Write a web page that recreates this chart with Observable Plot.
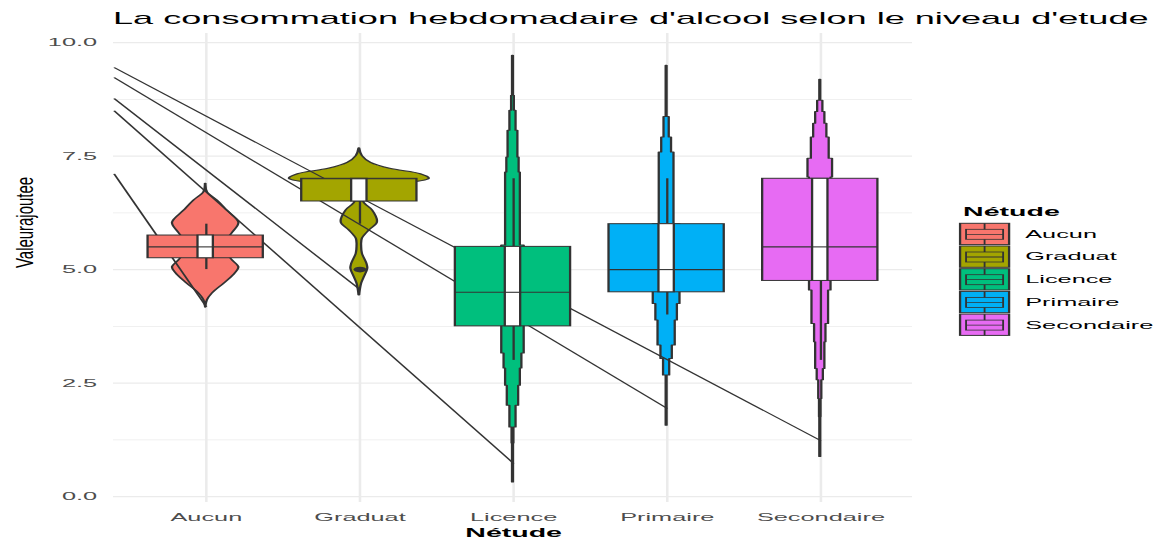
<!DOCTYPE html>
<html><head><meta charset="utf-8">
<script src="https://cdn.jsdelivr.net/npm/d3@7"></script>
<script src="https://cdn.jsdelivr.net/npm/@observablehq/plot@0.6"></script>
<style>
html,body{margin:0;padding:0;background:#fff;overflow:hidden;}
#stage{position:absolute;left:0;top:0;width:507px;height:543px;transform-origin:0 0;font-family:"Liberation Sans",Arial,sans-serif;}
#title{position:absolute;left:49.1px;top:11px;font-size:15.7px;line-height:1;white-space:nowrap;color:#000;}
#chart{position:absolute;left:0;top:33px;}
#legend{position:absolute;left:410px;top:195px;}
</style></head><body>
<div id="stage">
  <div id="title">La consommation hebdomadaire d'alcool selon le niveau d'etude</div>
  <div id="chart"></div>
  <div id="legend"></div>
</div>
<script>
// ---------- data ----------
const categories = ["Aucun", "Graduat", "Licence", "Primaire", "Secondaire"];
const colors = ["#F8766D", "#A3A500", "#00BF7D", "#00B0F6", "#E76BF3"];
const q1 = [5.25, 6.5, 3.75, 4.5, 4.75];
const median = [5.5, 7.0, 4.5, 5.0, 5.5];
const q3 = [5.75, 7.0, 5.5, 6.0, 7.0];
const whiskerLow = [5.0, 6.0, 3.0, 4.0, 3.0];
const whiskerHigh = [6.0, 7.0, 7.0, 7.0, 7.0];
const outlierCat = ["Graduat"];
const outlierValue = [5.0];

// smooth violins: [value, half-width]
const violinAucun = [[4.16,0],[4.32,0.011],[4.47,0.043],[4.69,0.12],[4.87,0.18],[5.05,0.216],[5.2,0.175],[5.35,0.14],[5.5,0.13],[5.65,0.14],[5.81,0.175],[6.03,0.216],[6.3,0.14],[6.52,0.076],[6.7,0.012],[6.89,0.002]];
const violinGraduat = [[4.43,0.002],[4.54,0.006],[4.69,0.015],[4.83,0.032],[5.02,0.055],[5.13,0.049],[5.35,0.02],[5.5,0.015],[5.68,0.02],[5.86,0.065],[6.03,0.117],[6.3,0.087],[6.48,0.03],[6.6,0.04],[6.8,0.15],[7.0,0.455],[7.1,0.4],[7.22,0.2],[7.35,0.076],[7.5,0.02],[7.67,0.002]];
// stepped violins: [lower bound of step, half-width of step]; last entry = top
const violinLicence = [[0.31,0.003],[1.17,0.006],[1.52,0.02],[2.0,0.037],[2.44,0.048],[2.82,0.058],[3.15,0.073],[5.53,0.048],[7.14,0.04],[7.47,0.032],[8.06,0.02],[8.5,0.009],[8.83,0.003],[9.71,0]];
const violinPrimaire = [[1.56,0.003],[2.67,0.02],[3.03,0.037],[3.33,0.056],[3.88,0.07],[4.24,0.087],[6.0,0.048],[7.58,0.032],[7.91,0.017],[8.36,0.003],[9.49,0]];
const violinSecondaire = [[0.87,0.003],[1.75,0.005],[2.15,0.01],[2.56,0.02],[2.81,0.03],[3.4,0.037],[3.8,0.054],[4.54,0.07],[7.03,0.08],[7.44,0.058],[7.91,0.043],[8.21,0.03],[8.47,0.017],[8.72,0.003],[9.18,0]];

// straight lines entering from the left edge of the panel
const lineStartValue = [9.45, 9.23, 8.77, 8.50, 7.11];
const lineEndCat = ["Secondaire", "Primaire", "Graduat", "Licence", "Aucun"];
const lineEndValue = [1.23, 1.94, 4.56, 0.73, 4.18];

const yTicks = [0, 2.5, 5, 7.5, 10];
const yMinor = [1.25, 3.75, 6.25, 8.75];
const xLabel = "Nétude";
const yLabel = "Valeurajoutee";

// ---------- layout ----------
const W = 507, STRETCH = 1167 / W;
document.getElementById("stage").style.transform = `scale(${STRETCH},1)`;
const xLeftEdge = 0.4, xRightEdge = 5.6;
const pos = c => categories.indexOf(c) + 1;
const positions = categories.map((c, i) => i + 1);
const boxHalf = 0.375, narrowHalf = 0.05;

const boxes = categories.map((c, i) => ({cat: c, pos: i + 1, color: colors[i], q1: q1[i], med: median[i], q3: q3[i], lo: whiskerLow[i], hi: whiskerHigh[i]}));
const smooth = (arr, i) => arr.map(([v, hw]) => ({pos: i + 1, v, hw}));
const stepped = (arr, i) => {
  const out = [];
  for (let k = 0; k < arr.length - 1; k++) {
    out.push({pos: i + 1, v: arr[k][0], hw: arr[k][1]}, {pos: i + 1, v: arr[k + 1][0], hw: arr[k][1]});
  }
  return out;
};
const violins = [
  {data: smooth(violinAucun, 0), curve: "catmull-rom"},
  {data: smooth(violinGraduat, 1), curve: "catmull-rom"},
  {data: stepped(violinLicence, 2), curve: "linear"},
  {data: stepped(violinPrimaire, 3), curve: "linear"},
  {data: stepped(violinSecondaire, 4), curve: "linear"}
];
const lines = lineEndCat.map((c, i) => ({x1: xLeftEdge, y1: lineStartValue[i], x2: pos(c), y2: lineEndValue[i]}));
const outliers = outlierCat.map((c, i) => ({x: pos(c), y: outlierValue[i]}));

const INK = "#333333";
const chart = Plot.plot({
  width: W, height: 510,
  marginLeft: 49.09, marginRight: W - 396.2, marginTop: 0, marginBottom: 41,
  style: {fontFamily: "Liberation Sans, Arial, sans-serif", color: "#4d4d4d", background: "white", overflow: "visible"},
  x: {domain: [xLeftEdge, xRightEdge]},
  y: {domain: [-0.13, 10.2]},
  marks: [
    Plot.ruleY(yMinor, {stroke: "#ebebeb", strokeWidth: 0.6}),
    Plot.ruleY(yTicks, {stroke: "#ebebeb", strokeWidth: 1.1}),
    Plot.ruleX(positions, {stroke: "#ebebeb", strokeWidth: 1.1}),
    Plot.axisX({ticks: positions, tickFormat: d => categories[d - 1], tickSize: 0, tickPadding: 11, fontSize: 11, label: null}),
    Plot.axisY({ticks: yTicks, tickFormat: d3.format(".1f"), tickSize: 0, tickPadding: 7.4, fontSize: 11, label: null}),
    ...violins.map((vv, i) => Plot.areaX(vv.data, {y: "v", x1: d => d.pos - d.hw, x2: d => d.pos + d.hw, fill: colors[i], stroke: INK, strokeWidth: 1, curve: vv.curve})),
    Plot.link(lines, {x1: "x1", y1: "y1", x2: "x2", y2: "y2", stroke: INK, strokeWidth: 0.9}),
    Plot.rect(boxes, {x1: d => d.pos - boxHalf, x2: d => d.pos + boxHalf, y1: "q1", y2: "q3", fill: "color", stroke: INK, strokeWidth: 1}),
    Plot.ruleY(boxes, {y: "med", x1: d => d.pos - boxHalf, x2: d => d.pos + boxHalf, stroke: INK, strokeWidth: 1.1}),
    Plot.ruleX(boxes, {x: "pos", y1: "q3", y2: "hi", stroke: INK, strokeWidth: 1}),
    Plot.ruleX(boxes, {x: "pos", y1: "lo", y2: "q1", stroke: INK, strokeWidth: 1}),
    Plot.rect(boxes, {x1: d => d.pos - narrowHalf, x2: d => d.pos + narrowHalf, y1: "q1", y2: "q3", fill: "white", stroke: INK, strokeWidth: 1}),
    Plot.ruleY(boxes, {y: "med", x1: d => d.pos - narrowHalf, x2: d => d.pos + narrowHalf, stroke: INK, strokeWidth: 1.1}),
    Plot.dot(outliers, {x: "x", y: "y", r: 2.8, fill: INK, stroke: null}),
    Plot.text([xLabel], {frameAnchor: "bottom", dy: 34.5, fontWeight: "bold", fontSize: 12.4, fill: "#000"}),
    Plot.text([yLabel], {frameAnchor: "left", dx: -38.7, rotate: -90, fontSize: 10.5, fill: "#000"})
  ]
});
document.getElementById("chart").appendChild(chart);
d3.select(chart).selectAll("text").filter(function () { return this.textContent === yLabel; })
  .attr("textLength", 91).attr("lengthAdjust", "spacingAndGlyphs");

// ---------- legend ----------
const leg = d3.select("#legend").append("svg").attr("width", 96).attr("height", 145)
  .style("font-family", "Liberation Sans, Arial, sans-serif").style("overflow", "visible");
leg.append("text").attr("x", 8.4).attr("y", 21).attr("font-size", 12.4).attr("font-weight", "bold").attr("fill", "#000").text(xLabel);
const keyX = 7.1, keyW = 21.3, keyH = 21.3, rowTop = 28.3, pitch = 22.7;
categories.forEach((c, i) => {
  const g = leg.append("g").attr("transform", `translate(${keyX},${rowTop + i * pitch})`);
  g.append("rect").attr("x", 0).attr("y", 0).attr("width", keyW).attr("height", keyH).attr("fill", colors[i]).attr("stroke", INK).attr("stroke-width", 1);
  g.append("line").attr("x1", keyW / 2).attr("x2", keyW / 2).attr("y1", 0).attr("y2", keyH).attr("stroke", INK).attr("stroke-width", 0.8);
  g.append("rect").attr("x", 2.6).attr("y", 6).attr("width", keyW - 5.2).attr("height", 10).attr("fill", colors[i]).attr("stroke", INK).attr("stroke-width", 0.8);
  g.append("line").attr("x1", 2.6).attr("x2", keyW - 2.6).attr("y1", 11).attr("y2", 11).attr("stroke", INK).attr("stroke-width", 0.8);
  leg.append("text").attr("x", 35.4).attr("y", rowTop + i * pitch + keyH / 2).attr("dy", "0.35em").attr("font-size", 11).attr("fill", "#000").text(c);
});
</script>
</body></html>
